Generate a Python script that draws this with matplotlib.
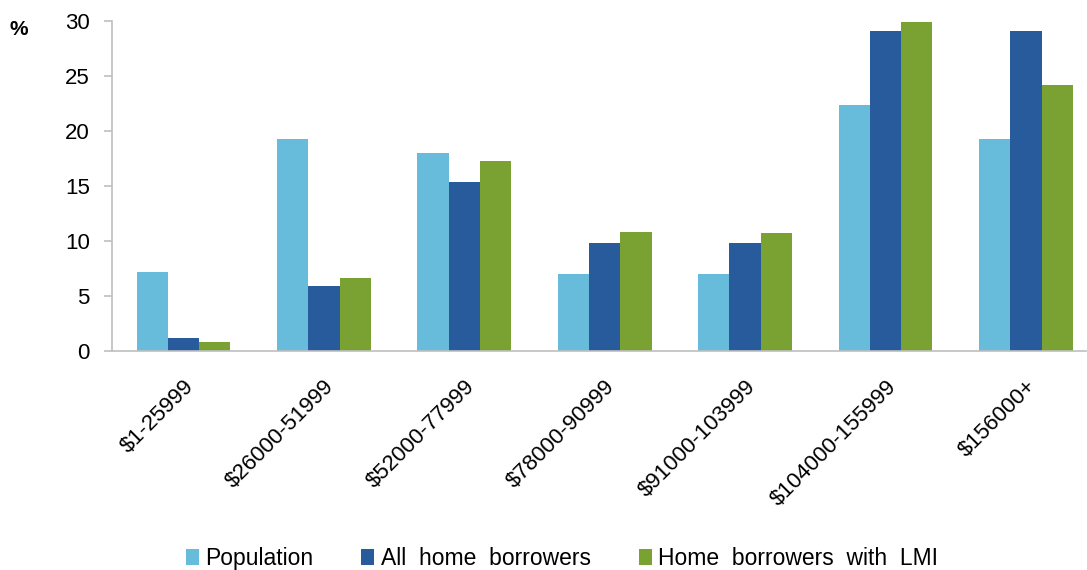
import matplotlib
matplotlib.use("Agg")
import matplotlib.pyplot as plt
import numpy as np

categories = ["$1-25999", "$26000-51999", "$52000-77999", "$78000-90999",
              "$91000-103999", "$104000-155999", "$156000+"]
population = [7.2, 19.3, 18.0, 7.0, 7.0, 22.4, 19.3]
all_borrowers = [1.2, 5.9, 15.4, 9.8, 9.8, 29.1, 29.1]
lmi_borrowers = [0.8, 6.6, 17.3, 10.8, 10.7, 29.9, 24.2]
series_names = ["Population", "All  home  borrowers", "Home  borrowers  with  LMI"]
colors = ["#67bcdb", "#275b9b", "#7aa232"]

plt.rcParams['font.family'] = ['Liberation Sans', 'DejaVu Sans']

fig = plt.figure(figsize=(10.87, 5.70), dpi=100)
ax = fig.add_axes([112 / 1087, 0.3842, (1086 - 112) / 1087, 0.5788])

x = np.arange(len(categories))
w = 0.223
for i, (vals, name, c) in enumerate(zip([population, all_borrowers, lmi_borrowers], series_names, colors)):
    ax.bar(x + (i - 1) * w, vals, width=w, color=c, label=name, edgecolor='none')

ax.set_xlim(-0.509, 6.428)
ax.set_ylim(0, 30)
ax.set_yticks([0, 5, 10, 15, 20, 25, 30])
ax.tick_params(axis='y', labelsize=16, length=6, color='#bfbfbf', width=1.2, pad=10)
ax.tick_params(axis='x', length=0, labelsize=16, pad=18)
ax.set_xticks(x)
ax.set_xticklabels(categories, rotation=45, ha='right', rotation_mode='anchor')
for s in ['top', 'right']:
    ax.spines[s].set_visible(False)
for s in ['left', 'bottom']:
    ax.spines[s].set_color('#bfbfbf')
    ax.spines[s].set_linewidth(1.2)

fig.text(0.009, 0.939, "%", fontsize=15, fontweight='bold')

leg = fig.legend(loc='center', bbox_to_anchor=(0.517, 0.020), ncol=3, frameon=False,
                 fontsize=16.5, handlelength=0.57, handleheight=0.65, handletextpad=0.28,
                 columnspacing=2.1)

fig.savefig("out.png", dpi=100)
